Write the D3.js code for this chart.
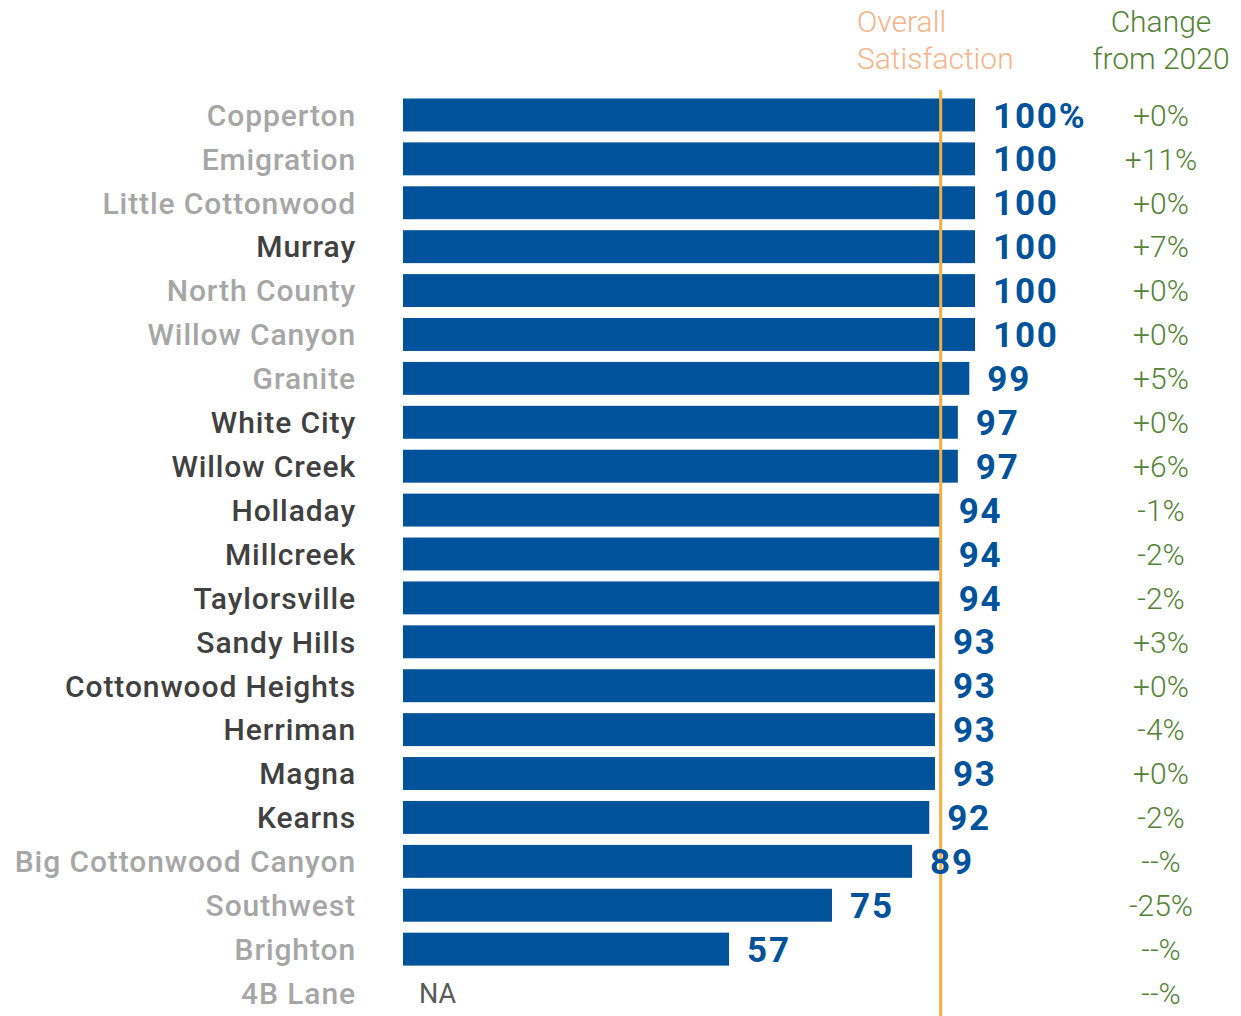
<!DOCTYPE html>
<html>
<head>
<meta charset="utf-8">
<script src="https://cdn.jsdelivr.net/npm/d3@7"></script>
<style>
  html, body { margin: 0; padding: 0; background: #fff; }
  svg { display: block; }
</style>
</head>
<body>
<script>
// Overall satisfaction by community, with change from 2020
const communities = [
  "Copperton", "Emigration", "Little Cottonwood", "Murray", "North County",
  "Willow Canyon", "Granite", "White City", "Willow Creek", "Holladay",
  "Millcreek", "Taylorsville", "Sandy Hills", "Cottonwood Heights", "Herriman",
  "Magna", "Kearns", "Big Cottonwood Canyon", "Southwest", "Brighton", "4B Lane"
];
const satisfaction = [100, 100, 100, 100, 100, 100, 99, 97, 97, 94, 94, 94, 93, 93, 93, 93, 92, 89, 75, 57, null];
const changeLabels = ["+0%", "+11%", "+0%", "+7%", "+0%", "+0%", "+5%", "+0%", "+6%", "-1%",
  "-2%", "-2%", "+3%", "+0%", "-4%", "+0%", "-2%", "--%", "-25%", "--%", "--%"];
const highlighted = [false, false, false, true, false, false, false, true, true, true,
  true, true, true, true, true, true, true, false, false, false, false];
const average = 94;

const W = 1241, H = 1016;
const svg = d3.select("body").append("svg").attr("width", W).attr("height", H);

const x = d3.scaleLinear().domain([0, 100]).range([403, 975]);
const y = d3.scaleBand().domain(communities).range([93, 1015]).paddingInner(0.25).paddingOuter(0.125);

const font = "Roboto, 'DejaVu Sans', sans-serif";
const blue = "#00529b";

// header
svg.append("text").attr("x", 857).attr("y", 32).attr("font-family", font).attr("font-weight", 300)
  .attr("font-size", 30).attr("fill", "#f5b48a").text("Overall");
svg.append("text").attr("x", 857).attr("y", 69).attr("font-family", font).attr("font-weight", 300)
  .attr("font-size", 30).attr("fill", "#f5b48a").text("Satisfaction");
svg.append("text").attr("x", 1161).attr("y", 32).attr("text-anchor", "middle").attr("font-family", font)
  .attr("font-weight", 300).attr("font-size", 30).attr("fill", "#548235").text("Change");
svg.append("text").attr("x", 1161).attr("y", 69).attr("text-anchor", "middle").attr("font-family", font)
  .attr("font-weight", 300).attr("font-size", 30).attr("fill", "#548235").text("from 2020");

const rows = communities.map((c, i) => ({ name: c, value: satisfaction[i], change: changeLabels[i], hi: highlighted[i] }));

// bars
svg.append("g").selectAll("rect").data(rows.filter(d => d.value != null)).join("rect")
  .attr("x", x(0)).attr("y", d => y(d.name))
  .attr("width", d => x(d.value) - x(0)).attr("height", y.bandwidth())
  .attr("fill", blue);

// community labels
svg.append("g").selectAll("text").data(rows).join("text")
  .attr("x", 356).attr("y", d => y(d.name) + y.bandwidth() / 2)
  .attr("dy", "0.36em").attr("text-anchor", "end")
  .attr("font-family", font).attr("font-weight", 500).attr("font-size", 30)
  .attr("letter-spacing", 0.9)
  .attr("fill", d => d.hi ? "#404040" : "#a6a6a6")
  .text(d => d.name);

// average marker line
svg.append("line").attr("x1", x(average)).attr("x2", x(average)).attr("y1", 90).attr("y2", H)
  .attr("stroke", "#f4b03c").attr("stroke-width", 3);

// value labels
svg.append("g").selectAll("text").data(rows).join("text")
  .attr("x", d => d.value != null ? x(d.value) + 18 : 419)
  .attr("y", d => y(d.name) + y.bandwidth() / 2)
  .attr("dy", "0.36em")
  .attr("font-family", font)
  .attr("font-weight", d => d.value != null ? 700 : 400)
  .attr("font-size", d => d.value != null ? 35 : 27)
  .attr("letter-spacing", d => d.value != null ? 1.8 : 0)
  .attr("fill", d => d.value != null ? blue : "#595959")
  .text((d, i) => d.value == null ? "NA" : (i === 0 ? d.value + "%" : d.value));

// change labels
svg.append("g").selectAll("text").data(rows).join("text")
  .attr("x", 1161).attr("y", d => y(d.name) + y.bandwidth() / 2)
  .attr("dy", "0.36em").attr("text-anchor", "middle")
  .attr("font-family", font).attr("font-weight", 300).attr("font-size", 30)
  .attr("fill", "#548235")
  .text(d => d.change);
</script>
</body>
</html>
